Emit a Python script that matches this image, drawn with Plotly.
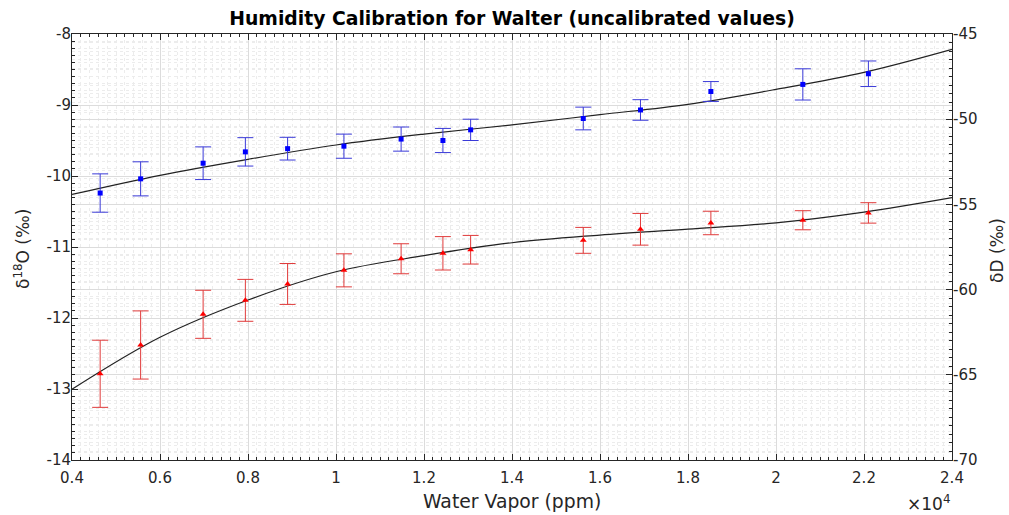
import plotly.graph_objects as go

# ---------------- data ----------------
water_vapor_ppm = [4640, 5560, 6980, 7940, 8900, 10180, 11480, 12430, 13060,
                   15620, 16920, 18520, 20610, 22100]

d18O = [-10.24, -10.04, -9.82, -9.66, -9.615, -9.58, -9.48, -9.50, -9.35,
        -9.19, -9.07, -8.81, -8.71, -8.56]
d18O_err = [0.27, 0.24, 0.23, 0.20, 0.16, 0.17, 0.17, 0.17, 0.15,
            0.16, 0.145, 0.14, 0.22, 0.18]

dD = [-64.94, -63.25, -61.45, -60.63, -59.67, -58.87, -58.19, -57.87, -57.66,
      -57.11, -56.46, -56.09, -55.93, -55.50]
dD_err = [1.97, 2.0, 1.41, 1.23, 1.2, 0.97, 0.88, 0.98, 0.84,
          0.76, 0.93, 0.69, 0.56, 0.6]

fit_ppm = [4000, 6000, 8000, 10000, 12000, 14000, 16000, 18000, 20000, 22000, 24000]
fit_d18O = [-10.26, -9.99, -9.765, -9.563, -9.41, -9.28, -9.136, -8.99, -8.78, -8.54, -8.216]
fit_dD = [-65.85, -62.80, -60.61, -58.95, -58.01, -57.25, -56.80, -56.45, -56.08, -55.45, -54.60]

x_tick_vals = [4000, 6000, 8000, 10000, 12000, 14000, 16000, 18000, 20000, 22000, 24000]
x_tick_text = ["0.4", "0.6", "0.8", "1", "1.2", "1.4", "1.6", "1.8", "2", "2.2", "2.4"]
y_tick_vals = [-14, -13, -12, -11, -10, -9, -8]
y_tick_text = ["-14", "-13", "-12", "-11", "-10", "-9", "-8"]
y2_tick_vals = [-70, -65, -60, -55, -50, -45]
y2_tick_text = ["-70", "-65", "-60", "-55", "-50", "-45"]

title_text = "Humidity Calibration for Walter (uncalibrated values)"
x_title = "Water Vapor (ppm)"
y_title = "δ<sup>18</sup>O (‰)"
y2_title = "δD (‰)"
x_exponent = "×10<sup>4</sup>"

# ---------------- styles ----------------
FONT = "DejaVu Sans"
AX = "#262626"
GRID = "#dcdcdc"
MINOR_GRID = "#ececec"

fig = go.Figure()

fig.add_trace(go.Scatter(
    x=fit_ppm, y=fit_d18O, mode="lines", line=dict(color="#222222", width=1.2, shape="spline"),
    yaxis="y", showlegend=False, hoverinfo="skip"))
fig.add_trace(go.Scatter(
    x=fit_ppm, y=fit_dD, mode="lines", line=dict(color="#222222", width=1.2, shape="spline"),
    yaxis="y2", showlegend=False, hoverinfo="skip"))

fig.add_trace(go.Scatter(
    x=water_vapor_ppm, y=d18O, mode="markers",
    marker=dict(symbol="square", size=5, color="#0000ff"),
    error_y=dict(type="data", array=d18O_err, visible=True, color="#3a3ad8", thickness=1, width=8),
    yaxis="y", showlegend=False))
fig.add_trace(go.Scatter(
    x=water_vapor_ppm, y=dD, mode="markers",
    marker=dict(symbol="triangle-up", size=6, color="#ff0000"),
    error_y=dict(type="data", array=dD_err, visible=True, color="#e03a3a", thickness=1, width=8),
    yaxis="y2", showlegend=False))

tickfont = dict(family=FONT, size=15, color=AX)
minor_common = dict(ticks="inside", ticklen=3, tickcolor=AX,
                    showgrid=True, gridcolor=MINOR_GRID, griddash="dot", gridwidth=1)

H = 515
PLOT_TOP, PLOT_BOTTOM = 34, 460
PH = PLOT_BOTTOM - PLOT_TOP


def py(pix):
    return (PLOT_BOTTOM - pix) / PH


fig.update_layout(
    width=1009, height=H,
    margin=dict(l=72, r=57, t=PLOT_TOP, b=H - PLOT_BOTTOM, autoexpand=False),
    paper_bgcolor="white", plot_bgcolor="white",
    font=dict(family=FONT, color=AX),
    title=dict(text="<b>" + title_text + "</b>", x=0.5, xref="paper", xanchor="center",
               y=1 - 18 / H, yanchor="middle", yref="container",
               font=dict(family=FONT, size=18.8, color="#000000")),
    xaxis=dict(
        range=[4000, 24000], tickvals=x_tick_vals, ticktext=x_tick_text,
        ticks="inside", ticklen=6, tickcolor=AX, showline=True, linecolor=AX, linewidth=1,
        mirror="ticks", showgrid=True, gridcolor=GRID, gridwidth=1, zeroline=False,
        tickfont=tickfont, ticklabelstandoff=4, automargin=False,
        minor=dict(dtick=200, **minor_common),
    ),
    yaxis=dict(
        range=[-14, -8], tickvals=y_tick_vals, ticktext=y_tick_text,
        ticks="inside", ticklen=6, tickcolor=AX,
        showline=True, linecolor=AX, linewidth=1, showgrid=True, gridcolor=GRID,
        zeroline=False, tickfont=tickfont, ticklabelstandoff=-3, automargin=False,
        minor=dict(dtick=0.1, **minor_common),
    ),
    yaxis2=dict(
        range=[-70, -45], tickvals=y2_tick_vals, ticktext=y2_tick_text,
        overlaying="y", side="right",
        ticks="inside", ticklen=6, tickcolor=AX, showline=True, linecolor=AX, linewidth=1,
        showgrid=True, gridcolor=GRID, zeroline=False, tickfont=tickfont,
        ticklabelstandoff=-3, automargin=False,
        minor=dict(dtick=0.5, **minor_common),
    ),
    annotations=[
        dict(text=x_exponent, xref="paper", yref="paper", x=1.0, y=py(503),
             xanchor="right", yanchor="middle", showarrow=False,
             font=dict(family=FONT, size=17, color=AX)),
        dict(text=x_title, xref="paper", yref="paper", x=0.5, y=py(501),
             xanchor="center", yanchor="middle", showarrow=False,
             font=dict(family=FONT, size=18.8, color=AX)),
        dict(text=y_title, xref="paper", yref="paper", x=(22 - 72) / 880, y=py(249),
             xanchor="center", yanchor="middle", showarrow=False, textangle=-90,
             font=dict(family=FONT, size=17, color=AX)),
        dict(text=y2_title, xref="paper", yref="paper", x=(997 - 72) / 880, y=py(250),
             xanchor="center", yanchor="middle", showarrow=False, textangle=-90,
             font=dict(family=FONT, size=17, color=AX)),
    ],
)

fig.write_html("out.html")
